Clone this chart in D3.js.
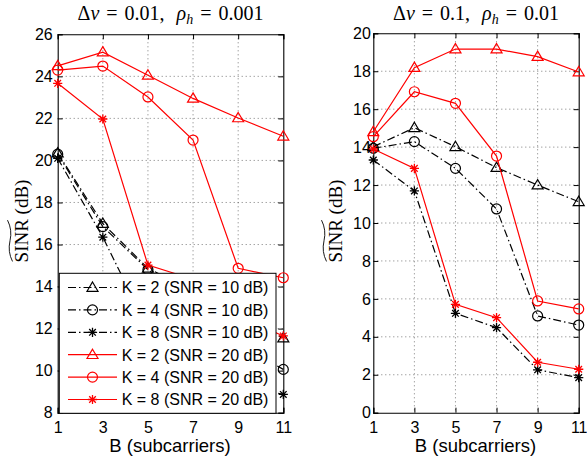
<!DOCTYPE html>
<html>
<head>
<meta charset="utf-8">
<script src="https://cdn.jsdelivr.net/npm/d3@7"></script>
<style>
  body { margin: 0; background: #fff; }
</style>
</head>
<body>
<svg width="587" height="463"></svg>
<script>
// subcarriers on the x axis
const B = [1, 3, 5, 7, 9, 11];
const kValues = [2, 4, 8];
const snrValues = [10, 20];

// left panel: dv = 0.01, rho_h = 0.001
const leftK2Snr10 = [20.35, 17.0, 14.87, 13.8, 12.6, 11.55];
const leftK4Snr10 = [20.3, 16.85, 14.8, 13.4, 11.3, 10.06];
const leftK8Snr10 = [20.1, 16.35, 12.0, 10.3, 9.3, 8.87];
const leftK2Snr20 = [24.5, 25.15, 24.05, 22.95, 22.02, 21.15];
const leftK4Snr20 = [24.3, 24.49, 23.02, 20.97, 14.87, 14.42];
const leftK8Snr20 = [23.67, 21.97, 15.02, 14.35, 12.6, 11.65];

// right panel: dv = 0.1, rho_h = 0.01
const rightK2Snr10 = [14.02, 15.02, 14.02, 12.92, 12.0, 11.12];
const rightK4Snr10 = [13.94, 14.29, 12.88, 10.74, 5.1, 4.62];
const rightK8Snr10 = [13.32, 11.69, 5.24, 4.48, 2.26, 1.85];
const rightK2Snr20 = [14.81, 18.19, 19.17, 19.17, 18.77, 17.96];
const rightK4Snr20 = [14.55, 16.92, 16.31, 13.53, 5.89, 5.47];
const rightK8Snr20 = [13.9, 12.88, 5.71, 5.01, 2.66, 2.29];

const dvValues = ["0.01", "0.1"];
const rhoValues = ["0.001", "0.01"];
const leftYTicks = d3.range(8, 27, 2);
const rightYTicks = d3.range(0, 21, 2);

const SANS = '"Liberation Sans", Arial, Helvetica, sans-serif';
const SERIF = '"Liberation Serif", "Times New Roman", serif';

const svg = d3.select("svg");

const markerShapes = ["triangle", "circle", "star"];
const styleFor = snr => snr === 10
  ? { color: "#000", dash: "8,3,1.5,3" }
  : { color: "#f00", dash: null };

function drawMarker(g, shape, x, y, color) {
  if (shape === "triangle") {
    g.append("path")
      .attr("d", `M${x},${y - 5.5}L${x + 5.5},${y + 3.8}L${x - 5.5},${y + 3.8}Z`)
      .attr("fill", "none").attr("stroke", color).attr("stroke-width", 1.2);
  } else if (shape === "circle") {
    g.append("circle").attr("cx", x).attr("cy", y).attr("r", 5)
      .attr("fill", "none").attr("stroke", color).attr("stroke-width", 1.2);
  } else {
    const r = 4.6, d = r * 0.72;
    g.append("path")
      .attr("d", `M${x - r},${y}H${x + r}M${x},${y - r}V${y + r}` +
        `M${x - d},${y - d}L${x + d},${y + d}M${x - d},${y + d}L${x + d},${y - d}`)
      .attr("stroke", color).attr("stroke-width", 1.3);
  }
}

const panels = [
  {
    box: [57.7, 283.3, 34.3, 412.7], domain: [8, 26], ticks: leftYTicks, gap: 5,
    ylabelX: 28, dv: dvValues[0], rho: rhoValues[0],
    series: [leftK2Snr10, leftK4Snr10, leftK8Snr10, leftK2Snr20, leftK4Snr20, leftK8Snr20],
  },
  {
    box: [373.3, 578.7, 33.3, 412.7], domain: [0, 20], ticks: rightYTicks, gap: 2.5,
    ylabelX: 342, dv: dvValues[1], rho: rhoValues[1],
    series: [rightK2Snr10, rightK4Snr10, rightK8Snr10, rightK2Snr20, rightK4Snr20, rightK8Snr20],
  },
];

panels.forEach((p, pi) => {
  const [xl, xr, yt, yb] = p.box;
  const x = d3.scaleLinear().domain([1, 11]).range([xl, xr]);
  const y = d3.scaleLinear().domain(p.domain).range([yb, yt]);
  const g = svg.append("g");

  g.append("rect").attr("x", xl).attr("y", yt).attr("width", xr - xl).attr("height", yb - yt)
    .attr("fill", "#fff");

  // grid
  g.selectAll(".gx").data(B.slice(1, -1)).join("line")
    .attr("x1", d => x(d)).attr("x2", d => x(d)).attr("y1", yt).attr("y2", yb)
    .attr("stroke", "#444").attr("stroke-width", 0.7).attr("stroke-dasharray", "1,3");
  g.selectAll(".gy").data(p.ticks.slice(1, -1)).join("line")
    .attr("y1", d => y(d)).attr("y2", d => y(d)).attr("x1", xl).attr("x2", xr)
    .attr("stroke", "#444").attr("stroke-width", 0.7).attr("stroke-dasharray", "1,3");

  // axes
  const xAxis = d3.axisBottom(x).tickValues(B).tickSize(-5).tickPadding(9);
  const yAxis = d3.axisLeft(y).tickValues(p.ticks).tickSize(-5).tickPadding(p.gap);
  const xa = g.append("g").attr("transform", `translate(0,${yb})`).call(xAxis);
  const ya = g.append("g").attr("transform", `translate(${xl},0)`).call(yAxis);
  g.append("g").attr("transform", `translate(0,${yt})`)
    .call(d3.axisTop(x).tickValues(B).tickSize(-5).tickFormat(""));
  g.append("g").attr("transform", `translate(${xr},0)`)
    .call(d3.axisRight(y).tickValues(p.ticks).tickSize(-5).tickFormat(""));
  g.selectAll(".domain").attr("stroke", "#000").attr("stroke-width", 1.1);
  g.selectAll(".tick line").attr("stroke", "#000");
  [xa, ya].forEach(a => a.selectAll("text")
    .style("font-family", SANS).style("font-size", "16px").attr("fill", "#000"));

  // series
  const line = d3.line().x((d, i) => x(B[i])).y(d => y(d));
  p.series.forEach((vals, si) => {
    const snr = snrValues[Math.floor(si / 3)];
    const st = styleFor(snr);
    g.append("path").datum(vals).attr("d", line)
      .attr("fill", "none").attr("stroke", st.color).attr("stroke-width", 1.2)
      .attr("stroke-dasharray", st.dash);
    vals.forEach((v, i) => drawMarker(g, markerShapes[si % 3], x(B[i]), y(v), st.color));
  });

  // title (math-style spacing)
  const cx = (xl + xr) / 2;
  const title = g.append("text").attr("x", cx).attr("y", 20).attr("text-anchor", "middle")
    .style("font-family", SERIF).style("font-size", "20px");
  title.append("tspan").text("Δ");
  title.append("tspan").style("font-style", "italic").text("v");
  title.append("tspan").attr("dx", 7).text("=");
  title.append("tspan").attr("dx", 7).text(`${p.dv},`);
  title.append("tspan").attr("dx", 12).style("font-style", "italic").text("ρ");
  title.append("tspan").style("font-style", "italic").style("font-size", "14px").attr("dy", 4).text("h");
  title.append("tspan").attr("dy", -4).attr("dx", 7).text("=");
  title.append("tspan").attr("dx", 7).text(p.rho);

  // x label
  g.append("text").attr("x", cx - 0.5).attr("y", 452).attr("text-anchor", "middle")
    .style("font-family", SANS).style("font-size", "18.5px").text("B (subcarriers)");

  // y label with tilde over SINR
  const yl = g.append("g").attr("transform", `translate(${p.ylabelX},221) rotate(-90)`);
  const ytxt = yl.append("text").attr("text-anchor", "middle")
    .style("font-family", SERIF).style("font-size", "19px");
  ytxt.append("tspan").text("SINR");
  ytxt.append("tspan").text(" (dB)");
  const bb = ytxt.node().getBBox();
  const sinrLen = ytxt.node().getSubStringLength(0, 4);
  const sx = bb.x, ty = -15.5;
  yl.append("path")
    .attr("d", `M${sx + 1},${ty} Q${sx + sinrLen * 0.25},${ty - 5} ${sx + sinrLen * 0.5},${ty - 2.5}` +
      ` T${sx + sinrLen - 1},${ty - 5}`)
    .attr("fill", "none").attr("stroke", "#000").attr("stroke-width", 0.9);

  // legend in left panel
  if (pi === 0) {
    const lg = svg.append("g");
    lg.append("rect").attr("x", 59.3).attr("y", 273.3).attr("width", 216.7).attr("height", 140)
      .attr("fill", "#fff").attr("stroke", "#000").attr("stroke-width", 1);
    const entries = [];
    snrValues.forEach(snr => kValues.forEach((k, ki) => entries.push({ k, snr, shape: markerShapes[ki] })));
    entries.forEach((e, i) => {
      const ry = 287.5 + i * 22.4;
      const st = styleFor(e.snr);
      lg.append("line").attr("x1", 68).attr("x2", 117).attr("y1", ry).attr("y2", ry)
        .attr("stroke", st.color).attr("stroke-width", 1.2).attr("stroke-dasharray", st.dash);
      drawMarker(lg, e.shape, 92.5, ry, st.color);
      lg.append("text").attr("x", 121.7).attr("y", ry + 5.8)
        .style("font-family", SANS).style("font-size", "16px")
        .text(`K = ${e.k} (SNR = ${e.snr} dB)`);
    });
  }
});
</script>
</body>
</html>
